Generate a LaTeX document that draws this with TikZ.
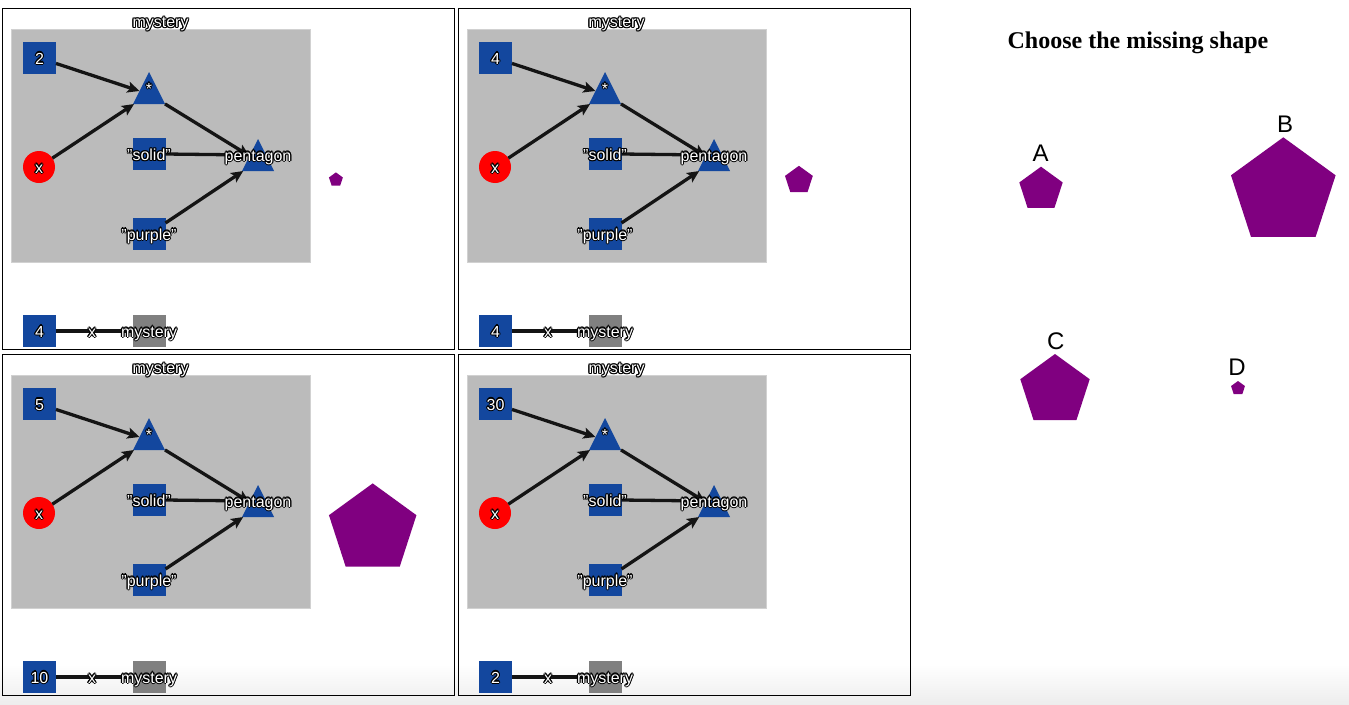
\documentclass[tikz,border=0pt]{standalone}
\usepackage{fontspec}
\setmainfont{Liberation Sans}
\newfontfamily\titlefont{Liberation Serif}
\usetikzlibrary{shapes.geometric,arrows.meta}
\definecolor{nodeblue}{RGB}{19,71,158}
\definecolor{boxgray}{RGB}{187,187,187}
\definecolor{midgray}{RGB}{128,128,128}
\definecolor{shapepurple}{RGB}{128,0,128}
\newcommand\OTo[3]{\rlap{\kern#1\raisebox{#2}{\textcolor{black}{#3}}}}
\newcommand\OT[1]{\leavevmode\OTo{1.1pt}{0pt}{#1}\OTo{-1.1pt}{0pt}{#1}\OTo{0pt}{1.1pt}{#1}\OTo{0pt}{-1.1pt}{#1}\OTo{0.8pt}{0.8pt}{#1}\OTo{-0.8pt}{0.8pt}{#1}\OTo{0.8pt}{-0.8pt}{#1}\OTo{-0.8pt}{-0.8pt}{#1}\textcolor{white}{#1}}
\tikzset{
  panelframe/.style={draw=black, line width=1pt},
  graybox/.style={rectangle, fill=boxgray, draw=black!18, line width=1pt, minimum width=299pt, minimum height=233pt, inner sep=0pt, outer sep=0pt},
  bsq/.style={rectangle, fill=nodeblue, minimum width=33pt, minimum height=32pt, inner sep=0pt, outer sep=0pt},
  gsq/.style={bsq, fill=midgray},
  redc/.style={circle, fill=red, minimum size=32pt, inner sep=0pt, outer sep=0pt},
  tri/.style={isosceles triangle, isosceles triangle stretches, shape border rotate=90, minimum width=32pt, minimum height=32pt, inner sep=0pt, outer sep=0pt, fill=nodeblue},
  lab/.style={anchor=base, inner sep=0pt, font=\fontsize{16}{19}\selectfont},
  conn/.style={line width=3.3pt, draw=black!92},
  arr/.style={conn, -{Stealth[length=12pt,width=11pt,inset=2.5pt]}},
  pent/.style={regular polygon, regular polygon sides=5, fill=shapepurple, inner sep=0pt, outer sep=0pt},
  choicelab/.style={anchor=base, inner sep=0pt, font=\fontsize{24}{28}\selectfont},
}
% #1,#2 origin; #3 top number; #4 bottom number; #5 name suffix
\newcommand\mpanel[5]{%
\begin{scope}[shift={(#1,#2)}]
  \draw[panelframe] (0,0) rectangle (452,341);
  \node[graybox] (g#5) at (158.5,137.5) {};
  \node[bsq] (n#5) at (37.5,50) {};
  \node[redc] (x#5) at (37,159) {};
  \node[tri, anchor=apex] (s#5) at (147,64) {};
  \node[bsq] (so#5) at (147,146) {};
  \node[tri, anchor=apex] (p#5) at (256,131) {};
  \node[bsq] (pu#5) at (147,226) {};
  \draw[arr] (n#5) -- (s#5);
  \draw[arr] (x#5) -- (s#5);
  \draw[arr] (s#5) -- (p#5);
  \draw[arr] (so#5.east) -- (p#5.left side);
  \draw[arr] (pu#5) -- (p#5);
  \node[lab] (tl#5) at (158.5,19.3) {\OT{mystery}};
  \node[lab] (nl#5) at (37.5,56) {\OT{#3}};
  \node[lab] (xl#5) at (37,165) {\OT{x}};
  \node[lab] (sl#5) at (147,86) {\OT{*}};
  \node[lab] (sol#5) at (147,152.5) {\OT{"solid"}};
  \node[lab] (pl#5) at (256,153) {\OT{pentagon}};
  \node[lab] (pul#5) at (147,232) {\OT{"purple"}};
  \node[bsq] (b#5) at (37.5,323) {};
  \node[gsq] (m#5) at (147,323) {};
  \draw[conn] (b#5) -- (m#5);
  \node[lab] (bl#5) at (37.5,329) {\OT{#4}};
  \node[lab] (bx#5) at (90,329) {\OT{x}};
  \node[lab] (ml#5) at (147,329) {\OT{mystery}};
\end{scope}}
\begin{document}
\begin{tikzpicture}[x=1pt,y=-1pt]
\useasboundingbox (0,0) rectangle (1349,704);
\fill[white] (0,0) rectangle (1349,704);
\shade[top color=white, bottom color=black!7] (0,664) rectangle (1349,704);
\mpanel{2}{8}{2}{4}{a}
\mpanel{458}{8}{4}{4}{b}
\mpanel{2}{354}{5}{10}{c}
\mpanel{458}{354}{30}{2}{d}
% outputs
\node[pent, minimum size=14.6pt] (oa) at (335.9,179.7) {};
\node[pent, minimum size=29.2pt] (ob) at (798.9,180.4) {};
\node[pent, minimum size=92pt] (oc) at (372.7,529.4) {};
% question
\node[anchor=base, inner sep=0pt, font=\titlefont\bfseries\fontsize{24}{28}\selectfont] (title) at (1138,48.3) {Choose the missing shape};
\node[pent, minimum size=45.6pt] (ca) at (1041,189.5) {};
\node[pent, minimum size=110pt] (cb) at (1283.3,192.3) {};
\node[pent, minimum size=73pt] (cc) at (1055,390.5) {};
\node[pent, minimum size=14.6pt] (cd) at (1238,388.3) {};
\node[choicelab] (la) at (1040.7,161.7) {A};
\node[choicelab] (lb) at (1285,132.7) {B};
\node[choicelab] (lc) at (1055.7,349) {C};
\node[choicelab] (ld) at (1237,375.7) {D};
\end{tikzpicture}
\end{document}
